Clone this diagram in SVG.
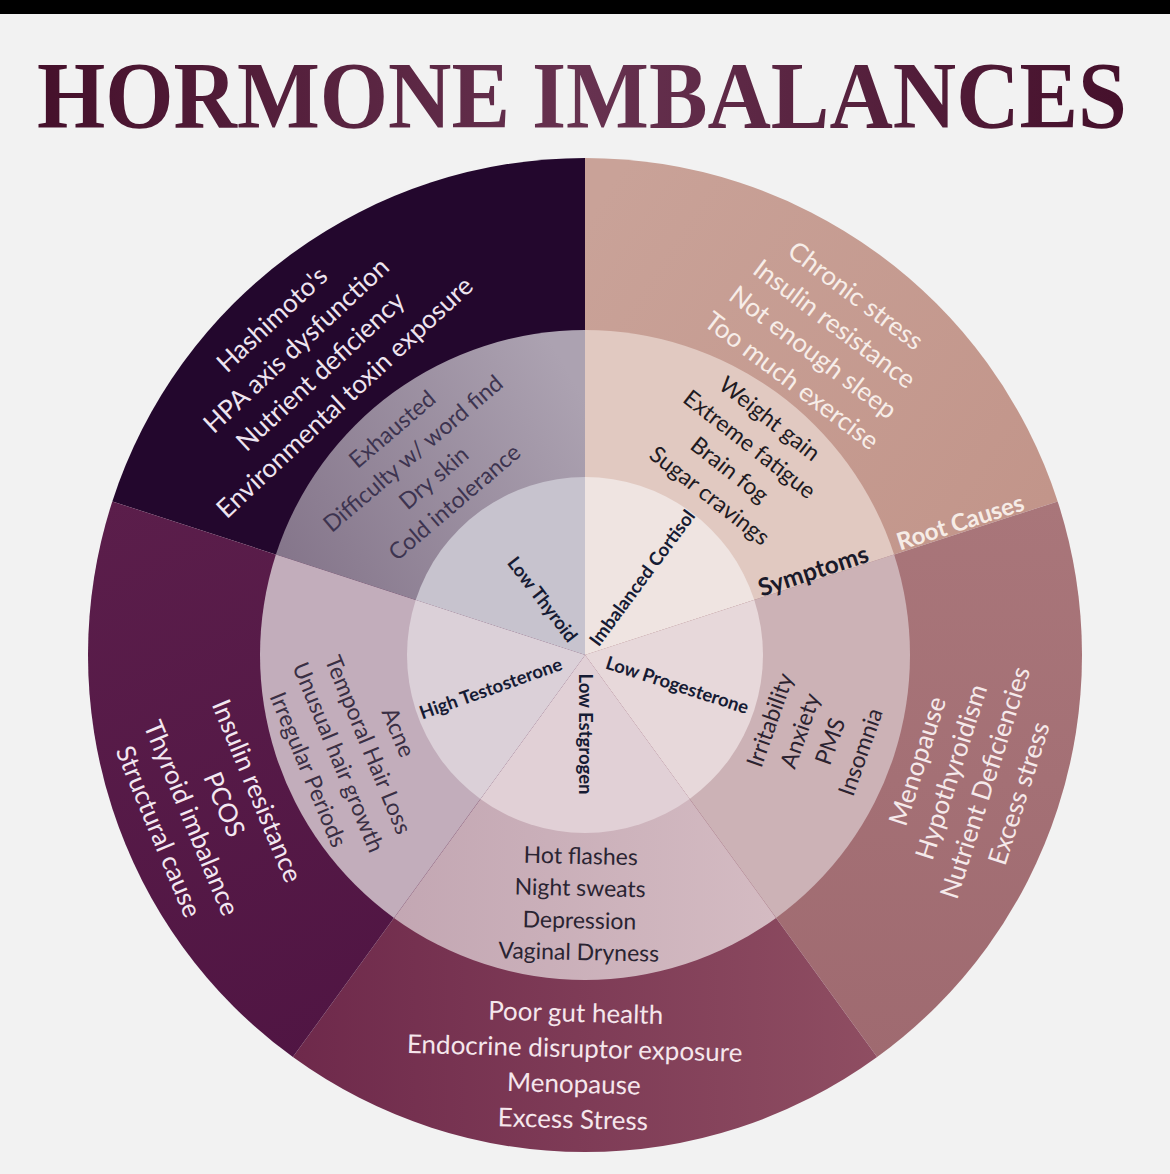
<svg xmlns="http://www.w3.org/2000/svg" width="1170" height="1174" viewBox="0 0 1170 1174">
<defs>
  <linearGradient id="gTitle" x1="0" y1="0" x2="1180" y2="0" gradientUnits="userSpaceOnUse">
    <stop offset="0" stop-color="#45102b"/>
    <stop offset="0.5" stop-color="#673250"/>
    <stop offset="1" stop-color="#45102b"/>
  </linearGradient>
  <linearGradient id="gThyM" x1="290" y1="570" x2="585" y2="400" gradientUnits="userSpaceOnUse">
    <stop offset="0" stop-color="#85768b"/>
    <stop offset="1" stop-color="#aca2b1"/>
  </linearGradient>
  <linearGradient id="gCorO" x1="600" y1="200" x2="1050" y2="500" gradientUnits="userSpaceOnUse">
    <stop offset="0" stop-color="#c9a298"/>
    <stop offset="1" stop-color="#c2958a"/>
  </linearGradient>
  <linearGradient id="gProO" x1="0" y1="500" x2="0" y2="1060" gradientUnits="userSpaceOnUse">
    <stop offset="0" stop-color="#a9767a"/>
    <stop offset="1" stop-color="#9f6a70"/>
  </linearGradient>
  <linearGradient id="gEstO" x1="290" y1="0" x2="880" y2="0" gradientUnits="userSpaceOnUse">
    <stop offset="0" stop-color="#6e294b"/>
    <stop offset="1" stop-color="#8f4e62"/>
  </linearGradient>
  <linearGradient id="gEstM" x1="395" y1="0" x2="776" y2="0" gradientUnits="userSpaceOnUse">
    <stop offset="0" stop-color="#c3a7b3"/>
    <stop offset="1" stop-color="#d4bbc2"/>
  </linearGradient>
  <linearGradient id="gTesO" x1="100" y1="500" x2="350" y2="1050" gradientUnits="userSpaceOnUse">
    <stop offset="0" stop-color="#5b1e4b"/>
    <stop offset="1" stop-color="#501543"/>
  </linearGradient>
</defs>
<style>
  text { font-family: Lato, "Open Sans", "Noto Sans", sans-serif; text-anchor: middle; }
  .rc { font-size: 26px; }
  .sy { font-size: 23px; }
  .hub { font-size: 18.5px; font-weight: bold; fill: #161b34; }
  .title { font-family: "Liberation Serif", "DejaVu Serif", serif; font-weight: bold; font-size: 95px; text-anchor: start; }
</style>
<rect width="1170" height="1174" fill="#f2f2f2"/>
<rect width="1170" height="14" fill="#000000"/>
<text class="title" transform="translate(37,128) scale(0.924,1)" x="0" y="0" fill="url(#gTitle)">HORMONE IMBALANCES</text>

<g id="low-thyroid">
  <path d="M585,655 L112.32,501.42 A497,497 0 0 1 585,158 Z" fill="#23072d"/>
  <path d="M585,655 L275.91,554.57 A325,325 0 0 1 585,330 Z" fill="url(#gThyM)"/>
  <path d="M585,655 L415.71,599.99 A178,178 0 0 1 585,477 Z" fill="#c7c3ce"/>
  <g class="rc" fill="#eee4f0" transform="translate(585,655) rotate(-43)">
    <text y="-450">Hashimoto's</text>
    <text y="-414.5">HPA axis dysfunction</text>
    <text y="-379">Nutrient deficiency</text>
    <text y="-343.5">Environmental toxin exposure</text>
  </g>
  <g class="sy" fill="#3d3450" transform="translate(585,655) rotate(-40.5)">
    <text y="-289">Exhausted</text>
    <text y="-257">Difficulty w/ word find</text>
    <text y="-225">Dry skin</text>
    <text y="-193">Cold intolerance</text>
  </g>
  <text class="hub" transform="translate(585,655) rotate(52.6)" x="-70" y="6.5">Low Thyroid</text>
</g>

<g id="imbalanced-cortisol">
  <path d="M585,655 L585,158 A497,497 0 0 1 1057.68,501.42 Z" fill="url(#gCorO)"/>
  <path d="M585,655 L585,330 A325,325 0 0 1 894.09,554.57 Z" fill="#e1c9c1"/>
  <path d="M585,655 L585,477 A178,178 0 0 1 754.29,599.99 Z" fill="#efe4e1"/>
  <g class="rc" fill="#f7ede8" transform="translate(585,655) rotate(37)">
    <text y="-441">Chronic stress</text>
    <text y="-405.5">Insulin resistance</text>
    <text y="-370">Not enough sleep</text>
    <text y="-334.5">Too much exercise</text>
  </g>
  <g class="sy" fill="#201a22" transform="translate(585,655) rotate(38)">
    <text y="-292">Weight gain</text>
    <text y="-259.5">Extreme fatigue</text>
    <text y="-227">Brain fog</text>
    <text y="-194.5">Sugar cravings</text>
  </g>
  <text class="hub" transform="translate(585,655) rotate(-53.5)" x="96" y="6.5">Imbalanced Cortisol</text>
</g>

<g id="low-progesterone">
  <path d="M585,655 L1057.68,501.42 A497,497 0 0 1 877.13,1057.08 Z" fill="url(#gProO)"/>
  <path d="M585,655 L894.09,554.57 A325,325 0 0 1 776.03,917.93 Z" fill="#ccb2b6"/>
  <path d="M585,655 L754.29,599.99 A178,178 0 0 1 689.63,799.01 Z" fill="#e7d8da"/>
  <g class="rc" fill="#f5e9ea" transform="translate(585,655) rotate(-72.3)">
    <text y="358">Menopause</text>
    <text y="393.5">Hypothyroidism</text>
    <text y="429">Nutrient Deficiencies</text>
    <text y="464.5">Excess stress</text>
  </g>
  <g class="sy" fill="#2b2230" transform="translate(585,655) rotate(-70.6)">
    <text y="204">Irritability</text>
    <text y="236">Anxiety</text>
    <text y="268">PMS</text>
    <text y="300">Insomnia</text>
  </g>
  <text class="hub" transform="translate(585,655) rotate(18)" x="97" y="6.5">Low Progesterone</text>
</g>

<g id="low-estrogen">
  <path d="M585,655 L877.13,1057.08 A497,497 0 0 1 292.87,1057.08 Z" fill="url(#gEstO)"/>
  <path d="M585,655 L776.03,917.93 A325,325 0 0 1 393.97,917.93 Z" fill="url(#gEstM)"/>
  <path d="M585,655 L689.63,799.01 A178,178 0 0 1 480.37,799.01 Z" fill="#e1d0d6"/>
  <g class="rc" fill="#f5e6ec" transform="translate(585,655) rotate(1.5)">
    <text y="367">Poor gut health</text>
    <text y="402.5">Endocrine disruptor exposure</text>
    <text y="438">Menopause</text>
    <text y="473.5">Excess Stress</text>
  </g>
  <g class="sy" fill="#2a2432" transform="translate(585,655) rotate(1.2)">
    <text y="209">Hot flashes</text>
    <text y="241">Night sweats</text>
    <text y="273.5">Depression</text>
    <text y="305">Vaginal Dryness</text>
  </g>
  <text class="hub" transform="translate(585,655) rotate(90)" x="79" y="6.5">Low Estgrogen</text>
</g>

<g id="high-testosterone">
  <path d="M585,655 L292.87,1057.08 A497,497 0 0 1 112.32,501.42 Z" fill="url(#gTesO)"/>
  <path d="M585,655 L393.97,917.93 A325,325 0 0 1 275.91,554.57 Z" fill="#c2adbb"/>
  <path d="M585,655 L480.37,799.01 A178,178 0 0 1 415.71,599.99 Z" fill="#dbd0d8"/>
  <g class="rc" fill="#f3e7f1" transform="translate(585,655) rotate(67.5)">
    <text y="364">Insulin resistance</text>
    <text y="399.5">PCOS</text>
    <text y="435">Thyroid imbalance</text>
    <text y="470.5">Structural cause</text>
  </g>
  <g class="sy" fill="#3a2f44" transform="translate(585,655) rotate(67.5)">
    <text y="210">Acne</text>
    <text y="242.5">Temporal Hair Loss</text>
    <text y="275">Unusual hair growth</text>
    <text y="307.5">Irregular Periods</text>
  </g>
  <text class="hub" transform="translate(585,655) rotate(-19.5)" x="-100" y="6.5">High Testosterone</text>
</g>

<g id="ring-labels">
  <text transform="translate(585,655) rotate(-18)" x="243" y="-1" font-size="24.5" font-weight="bold" fill="#1a1a2a">Symptoms</text>
  <text transform="translate(585,655) rotate(-18)" x="398" y="-2" font-size="24" font-weight="bold" fill="#f6ece6">Root Causes</text>
</g>
</svg>
